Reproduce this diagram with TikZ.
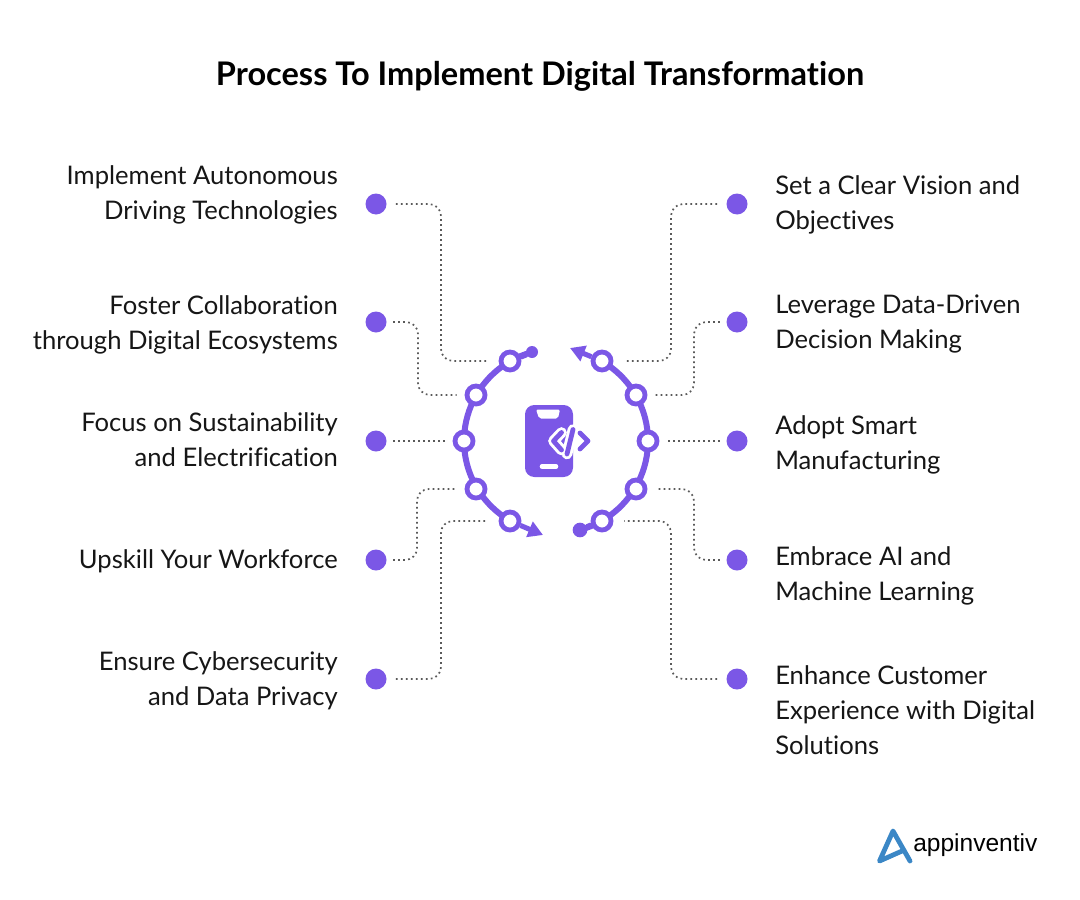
\documentclass[tikz,border=0pt]{standalone}
\usepackage{fontspec}
\setmainfont{Lato}[Ligatures=NoCommon]
\newfontfamily\logofont{Liberation Sans}
\usetikzlibrary{arrows.meta}
\definecolor{vio}{HTML}{7B57E6}
\definecolor{ink}{HTML}{161616}
\definecolor{dotc}{HTML}{5A5A5A}
\definecolor{logob}{HTML}{3B87C6}
\tikzset{
  x=0.75pt,y=-0.75pt,
  bullet/.style={circle,fill=vio,minimum size=15.75pt,inner sep=0pt,outer sep=0pt},
  ring/.style={circle,fill=white,draw=vio,line width=3.6pt,minimum size=13.5pt,inner sep=0pt,outer sep=1.8pt},
  arcline/.style={draw=vio,line width=4.5pt},
  conn/.style={draw=dotc,line width=1.3pt,dash pattern=on 1.3pt off 2.45pt,rounded corners=9pt},
  leftlab/.style={anchor=east,align=right,text=ink,font=\fontsize{19.2}{26.25}\selectfont,inner sep=0pt},
  rightlab/.style={anchor=west,align=left,text=ink,font=\fontsize{19.2}{26.25}\selectfont,inner sep=0pt},
}
\begin{document}
\begin{tikzpicture}
\useasboundingbox (0,0) rectangle (1080,899);
\node[inner sep=0pt,text=black,font=\fontsize{24.4}{28}\selectfont\bfseries] (title) at (540,76) {Process To Implement Digital Transformation};
% arcs
\draw[arcline] plot[domain=105:240,samples=40] ({556+92*cos(\x)},{441-92*sin(\x)});
\draw[arcline] plot[domain=-75:60,samples=40] ({556+92*cos(\x)},{441-92*sin(\x)});
% ends
\node[circle,fill=vio,minimum size=9pt,inner sep=0pt] (e1) at (532,352) {};
\node[circle,fill=vio,minimum size=11pt,inner sep=0pt] (e2) at (580,530) {};
\coordinate (t1) at (543,535);
\coordinate (t2) at (570,348);
% rings
\node[ring] (l1) at (510,361) {};
\node[ring] (l2) at (476,395) {};
\node[ring] (l3) at (464,441) {};
\node[ring] (l4) at (476,489) {};
\node[ring] (l5) at (510,521) {};
\node[ring] (r1) at (602,361) {};
\node[ring] (r2) at (636,395) {};
\node[ring] (r3) at (648,441) {};
\node[ring] (r4) at (636,489) {};
\node[ring] (r5) at (602,521) {};
\draw[arcline,-{Triangle[length=11pt,width=12pt]},line width=3.8pt] (l5) -- (t1);
\draw[arcline,-{Triangle[length=11pt,width=12pt]},line width=3.8pt] (r1) -- (t2);
\draw[arcline] (l1) -- (e1);
\draw[arcline] (r5) -- (e2);
% bullets
\foreach \n/\y in {a1/204,a2/322,a3/441,a4/560,a5/679}
  \node[bullet] (\n) at (376,\y) {};
\foreach \n/\y in {b1/204,b2/322,b3/441,b4/560,b5/679}
  \node[bullet] (\n) at (737,\y) {};
% bend coordinates
\coordinate (c1) at (441,280);
\coordinate (c2) at (418,360);
\coordinate (c4) at (417,520);
\coordinate (c5) at (441,600);
\coordinate (d1) at (671,280);
\coordinate (d2) at (694,360);
\coordinate (d4) at (694,520);
\coordinate (d5) at (671,600);
% connectors
\draw[conn,shorten <=7pt,shorten >=8pt] (a1.east) -| (c1) |- (l1.west);
\draw[conn,shorten <=5pt,shorten >=6pt] (a2.east) -| (c2) |- (l2.west);
\draw[conn,shorten <=5pt,shorten >=6pt] (a3.east) -- (l3.west);
\draw[conn,shorten <=5pt,shorten >=6pt] (a4.east) -| (c4) |- (l4.west);
\draw[conn,shorten <=7pt,shorten >=8pt] (a5.east) -| (c5) |- (l5.west);
\draw[conn,shorten <=7pt,shorten >=8pt] (b1.west) -| (d1) |- (r1.east);
\draw[conn,shorten <=5pt,shorten >=6pt] (b2.west) -| (d2) |- (r2.east);
\draw[conn,shorten <=5pt,shorten >=6pt] (b3.west) -- (r3.east);
\draw[conn,shorten <=5pt,shorten >=6pt] (b4.west) -| (d4) |- (r4.east);
\draw[conn,shorten <=7pt,shorten >=8pt] (b5.west) -| (d5) |- (r5.east);
% labels
\node[leftlab] (ta1) at (338,195) {Implement Autonomous\\Driving Technologies};
\node[leftlab] (ta2) at (338,325) {Foster Collaboration\\through Digital Ecosystems};
\node[leftlab] (ta3) at (338,440) {Focus on Sustainability\\and Electrification};
\node[leftlab] (ta4) at (338,561) {Upskill Your Workforce};
\node[leftlab] (ta5) at (338,681) {Ensure Cybersecurity\\and Data Privacy};
\node[rightlab] (tb1) at (775,205) {Set a Clear Vision and\\Objectives};
\node[rightlab] (tb2) at (775,324) {Leverage Data-Driven\\Decision Making};
\node[rightlab] (tb3) at (775,445) {Adopt Smart\\Manufacturing};
\node[rightlab] (tb4) at (775,576) {Embrace AI and\\Machine Learning};
\node[rightlab] (tb5) at (775,710) {Enhance Customer\\Experience with Digital\\Solutions};
% phone icon
\fill[vio,rounded corners=7pt] (525,405) rectangle (573,477);
\fill[white,rounded corners=1.5pt] (536,409.5) -- (560,409.5) -- (558,418.5) -- (539,418.5) -- cycle;
\draw[white,line width=3.4pt,line cap=round] (542,466.5) -- (556,466.5);
\draw[white,line width=8pt,line cap=round,line join=round] (561.5,432.5) -- (553.5,441) -- (561.5,450);
\draw[white,line width=8pt,line cap=round] (573,429.5) -- (567,454);
\draw[vio,line width=3.6pt,line cap=round,line join=round] (561.5,432.5) -- (553.5,441) -- (561.5,450);
\draw[vio,line width=3.6pt,line cap=round] (573,429.5) -- (567,454);
\draw[vio,line width=3.6pt,line cap=round,line join=round] (580,433) -- (588,441) -- (580,449);
% logo
\draw[logob,line width=3.6pt,line cap=round,line join=round] (910,861) -- (893,831) -- (879.5,861) -- (902,851);
\node[anchor=base west,inner sep=0pt,text=black,font=\logofont\fontsize{18.4}{22}\selectfont] (logo) at (913,851) {appinventiv};
\end{tikzpicture}
\end{document}
